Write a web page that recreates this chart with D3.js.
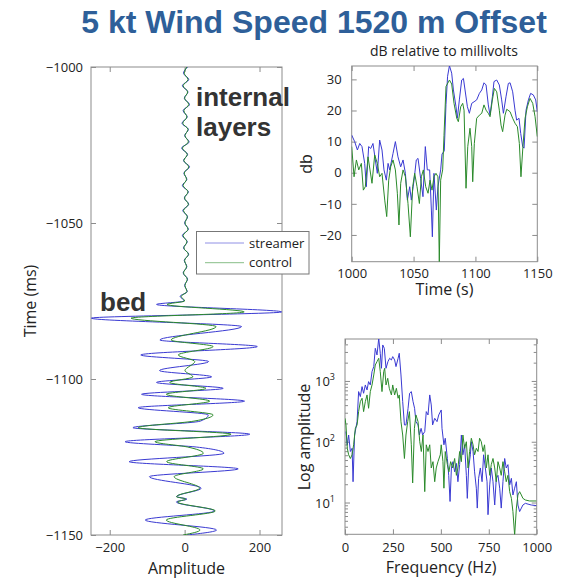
<!DOCTYPE html>
<html><head><meta charset="utf-8">
<script src="https://cdn.jsdelivr.net/npm/d3@7"></script>
<style>body{margin:0;background:#fff;} text{font-family:"Open Sans",sans-serif;}</style>
</head><body><svg id="c" width="585" height="580"></svg>
<script>
// ---------- DATA ----------
// Left panel: wiggle trace, time (ms) vs amplitude
const traceTime = [-1000,-1002,-1004,-1006,-1008,-1010,-1012,-1014,-1016,-1018,-1020,-1022,-1024,-1026,-1028,-1030,-1032,-1034,-1036,-1038,-1040,-1042,-1044,-1046,-1048,-1050,-1052,-1054,-1056,-1058,-1060,-1062,-1064,-1066,-1068,-1070,-1072,
  -1073.5,-1075,-1076.1,-1078.5,-1080.5,-1083.2,-1087.5,-1089.6,-1092.3,-1094.4,-1097.3,-1099.3,-1101.1,-1103,-1104.9,-1107.1,-1109.2,-1111.5,-1113.5,-1115.6,-1117.7,-1120.1,-1121.8,-1123.8,-1126.5,-1128.8,-1131.3,-1135,-1137.7,-1138.5,-1139.4,-1142.3,-1145.2,-1148.4,-1150];
const traceStreamer = [8,-3,11,-6,9,-1,13,-4,7,-7,10,0,12,-8,8,-3,13,-2,6,-6,10,-1,11,-5,8,0,10,-6,7,-3,11,-1,6,-4,8,0,7,
  -12,-1,-75,259,-249,152,-66,194,-117,64,-67,72,-75,103,-115,160,-124,63,42,-138,174,-159,31,105,-148,143,-94,44,-21,6,-22,80,-105,85,6];
const traceControl = [6,-1,9,-4,8,0,11,-2,6,-5,9,1,10,-6,7,-2,11,-1,5,-4,9,0,10,-3,7,1,9,-4,6,-2,10,0,5,-3,7,1,6,
  -9,0,-47,159,-143,84,-36,76,-17,27,1,22,-40,57,-49,67,-44,76,25,-124,124,-79,8,50,-48,50,-28,40,-22,3,-19,82,-49,41,-4];
const ampTicks = [-200, 0, 200];
const msTicks = [-1150, -1100, -1050, -1000];

// Top right: dB vs time (s)
const dbStreamerTime = [1000,1002.4,1004.6,1006.5,1008.3,1010.5,1011.8,1013.7,1015.4,1017.2,1019.1,1020.7,1022.6,1024.5,1026.1,1028,1029.4,1030.7,1033.4,1035.3,1037.4,1039.6,1041.5,1043.4,1045,1046.9,1048.2,1050.4,1052.2,1053.6,1055.7,1057.6,1059.5,1061.1,1063,1064.4,1065.2,1066.5,1068.4,1069.7,1071.9,1073,1074.8,1076.2,1077.5,1079,1080.8,1082.2,1084.3,1085.4,1087,1088.9,1090.3,1091.6,1093.5,1095.1,1097,1098.9,1101,1103.2,1105.1,1106.9,1108.6,1110.4,1111.8,1113.7,1115,1117.2,1119.3,1121.2,1122.6,1124.7,1126.6,1128,1130.1,1132,1133.3,1135.2,1136.6,1138.2,1139.3,1140.9,1142.8,1144.6,1146.8,1148.7,1150];
const dbStreamer = [12.1,10,7.3,9.4,8.4,3,-4.5,8.4,7.8,9.4,4.1,-0.2,10.5,7.3,0.9,-2.4,3,0.9,6.2,10,5.1,1.9,4.1,-0.2,-8.8,-4.5,-8.8,-2.4,4.1,4.6,-1.8,-7.7,8.4,0.9,0.9,-12,-20.6,-0.2,-12,-4.5,0.9,6,7,22,31,34.4,32,26.6,21.2,17.5,23.4,29.8,30.3,26.6,21.2,19.1,22.3,22.8,23.4,25.5,26.6,28.9,28.2,21.8,18.5,24.4,29.3,29.8,28.2,23.4,19.1,24.4,28.7,28.9,26,20.1,16.9,17.5,12.6,8.4,7.9,20.1,23.4,25.5,25,23.4,19.6];
const dbControlTime = [1000,1001.9,1003.8,1005.7,1007.8,1009.4,1011,1013.2,1014.8,1016.4,1018.6,1020.7,1022.6,1024.5,1026.7,1028.3,1029.9,1031.5,1033.4,1035.3,1036.9,1038.2,1039.6,1041.5,1043.4,1045.5,1047.4,1049.3,1050.9,1052.8,1054.7,1056.3,1057.9,1059.8,1061.7,1063.3,1064.9,1066.5,1068.1,1069.7,1070.8,1071.9,1073.5,1074.6,1076.2,1079,1080.8,1082.7,1084.9,1086.2,1088.1,1089.7,1090.8,1092.4,1093.8,1095.6,1097,1097.8,1099.1,1101,1103.2,1105.1,1106.9,1108.6,1110.4,1111.8,1113.7,1115.3,1117.2,1119.3,1120.7,1122,1123.9,1125.3,1128,1130.1,1132,1133.9,1135.5,1136.8,1138.2,1140.1,1142,1144.1,1146.3,1148.2,1150];
const dbControl = [8.4,-1.3,4.1,0.9,3,-5.6,-4.5,5.1,0.9,-3.4,5.7,3,-1.3,-0.2,-8.8,-14.1,-2.4,1.9,4.1,0.9,-6.6,-16.8,-3.4,0.9,-1.3,-9.9,-20.6,-4.5,-0.2,-4.5,-9.9,-1.3,0.9,-4.5,-6.6,-2.4,-5.6,-1.3,-0.2,-1.3,-28.6,-2.4,0.9,12,27.7,29.8,28.5,22.3,17.5,16.4,21.2,22.3,20.1,-5,8.4,14.3,8.4,-2.9,9.4,17.5,18.5,19.1,21.8,20.1,19.1,18,23.4,27.1,26,20.1,15.3,13.2,18.5,20.4,19.6,17.5,15.9,14.8,9.4,-1.3,7.3,17.5,21.2,23.9,22.3,18,11.6];
const timeSTicks = [1000, 1050, 1100, 1150];
const dbTicks = [-20, -10, 0, 10, 20, 30];

// Bottom right: log amplitude vs frequency (Hz)
const specStreamerFreq = [5,12,19,28,37,42,50,63,71,80,89,97,106,115,123,132,141,150,158,167,176,184,190,197,205,214,224,233,242,249,259,266,277,283,292,301,310,318,329,337,346,355,363,370,381,388,397,405,416,424,433,442,450,457,468,480,489,502,506,516,523,534,541,548,555,563,572,581,589,598,607,615,624,633,638,645,654,659,668,676,685,690,697,706,715,723,732,741,746,755,763,772,781,789,798,807,815,824,833,841,850,859,868,876,885,894,902,911,920,928,941,955,972,998];
const specStreamer = [147,89,129,69,78,22,129,214,668,553,807,627,859,711,975,859,1424,1721,3445,2677,5035,2851,1616,3908,3445,1616,2080,2360,2215,2514,2215,1721,2360,2851,1255,457,189,189,355,627,668,457,355,214,189,129,166,129,147,313,276,589,403,189,243,214,276,333,166,89,114,53,28,10.4,37,47,32,44,22,42,129,61,89,28,11.7,37,61,100,69,32,17.2,8.1,25,37,22,61,37,22,6.3,19.5,37,22,9.1,25,28,17.2,8.1,22,53,37,42,19.5,25,13.3,17.2,22,9.1,7.1,8.1,9.1,9.7,9.4,9.1,8.9];
const specControlFreq = [0,5,12,19,28,37,45,54,63,71,80,89,97,106,115,123,132,141,150,158,167,176,184,193,202,207,214,223,231,242,249,259,268,277,283,292,301,310,318,327,336,346,353,362,370,381,390,398,407,416,424,433,442,450,459,468,476,485,497,502,511,516,523,534,542,551,562,572,581,589,598,607,615,624,633,642,650,659,668,676,685,694,702,711,720,728,737,746,755,763,772,781,789,798,807,815,824,833,841,850,859,868,876,885,894,902,911,920,928,941,963,998];
const specControl = [243,189,78,61,53,61,89,166,189,313,457,519,313,457,589,355,668,859,1255,1833,2080,2360,1424,668,1424,1616,859,1106,757,589,859,589,757,519,589,214,129,53,129,214,313,89,21,166,276,214,100,69,129,15.1,89,69,89,37,47,22,37,47,61,89,47,17.2,69,42,32,47,37,53,28,37,69,47,129,78,100,37,69,114,89,61,78,69,114,100,69,89,37,61,28,42,53,37,22,47,37,28,47,32,22,28,15.1,11.7,7.1,2.9,8.1,13.3,15.1,13.3,11.7,11,10.6,10.6];
const freqTicks = [0, 250, 500, 750, 1000];
const logTicks = [10, 100, 1000];

const seriesNames = ["streamer", "control"];

// ---------- DRAW ----------
const svg = d3.select("#c");
const BLUE = "#3a3ad2", GREEN = "#2b8a2b", AX = "#8c8c8c", TXT = "#222";
const TICKFS = 13;

function styleAxis(g, fs) {
  g.select(".domain").remove();
  g.selectAll("line").attr("stroke", AX);
  g.selectAll("text").attr("fill", TXT).style("font-size", fs + "px");
}

function frame(x, y, o) {
  const [x0, x1] = x.range(), [y0, y1] = y.range();
  const g = svg.append("g");
  g.append("g").attr("transform", `translate(0,${y0})`)
    .call(d3.axisBottom(x).tickValues(o.xt).tickSize(-5).tickPadding(o.xpad).tickFormat(o.xf))
    .call(a => styleAxis(a, TICKFS));
  g.append("g").attr("transform", `translate(0,${y1})`)
    .call(d3.axisTop(x).tickValues(o.xt).tickSize(-5).tickFormat(""))
    .call(a => styleAxis(a, TICKFS));
  g.append("g").attr("transform", `translate(${x0},0)`)
    .call(d3.axisLeft(y).tickValues(o.yt).tickSize(-5).tickPadding(o.ypad).tickFormat(o.yf))
    .call(a => styleAxis(a, TICKFS));
  g.append("g").attr("transform", `translate(${x1},0)`)
    .call(d3.axisRight(y).tickValues(o.yt).tickSize(-5).tickFormat(""))
    .call(a => styleAxis(a, TICKFS));
  g.append("rect").attr("x", x0).attr("y", y1).attr("width", x1 - x0).attr("height", y0 - y1)
    .attr("fill", "none").attr("stroke", AX).attr("stroke-width", 1);
  return g;
}

function clip(id, x, y) {
  const [x0, x1] = x.range(), [y0, y1] = y.range();
  svg.append("clipPath").attr("id", id).append("rect")
    .attr("x", x0).attr("y", y1).attr("width", x1 - x0).attr("height", y0 - y1);
}

// Title
svg.append("text").attr("x", 314).attr("y", 33).attr("text-anchor", "middle")
  .style("font-family", "'Liberation Sans', Arial, sans-serif").style("font-weight", "bold")
  .style("font-size", "32px").attr("fill", "#2e5f99").text("5 kt Wind Speed 1520 m Offset");

// ---- Left panel ----
const xL = d3.scaleLinear().domain([-250, 260]).range([91, 282]);
const yL = d3.scaleLinear().domain([-1150, -1000]).range([535, 67]);
const fmt = d3.format("d");
frame(xL, yL, {xt: ampTicks, yt: msTicks, xf: fmt, yf: fmt, xpad: 8, ypad: 8});
clip("clipL", xL, yL);
const lineL = d3.line().x(d => xL(d[1])).y(d => yL(d[0])).curve(d3.curveMonotoneY);
[[traceStreamer, BLUE], [traceControl, GREEN]].forEach(([vals, col]) => {
  svg.append("path").datum(traceTime.map((t, i) => [t, vals[i]]))
    .attr("clip-path", "url(#clipL)").attr("fill", "none").attr("stroke", col)
    .attr("stroke-width", 1).attr("d", lineL);
});
svg.append("text").attr("x", 186.5).attr("y", 574).attr("text-anchor", "middle")
  .style("font-size", "16px").attr("fill", TXT).text("Amplitude");
svg.append("text").attr("transform", "translate(36,301) rotate(-90)").attr("text-anchor", "middle")
  .style("font-size", "16px").attr("fill", TXT).text("Time (ms)");

// annotations
const ann = (x, y, s) => svg.append("text").attr("x", x).attr("y", y)
  .style("font-family", "'Liberation Sans', Arial, sans-serif").style("font-weight", "bold")
  .style("font-size", "26px").attr("fill", "#333").text(s);
ann(196, 106, "internal");
ann(196, 136, "layers");
ann(100, 311, "bed");

// legend
const lg = svg.append("g");
lg.append("rect").attr("x", 196.5).attr("y", 231.5).attr("width", 112.5).attr("height", 42.5)
  .attr("fill", "#fff").attr("stroke", "#777").attr("stroke-width", 1);
seriesNames.forEach((n, i) => {
  const yy = 243 + i * 19.7;
  lg.append("line").attr("x1", 205).attr("x2", 244).attr("y1", yy).attr("y2", yy)
    .attr("stroke", i === 0 ? BLUE : GREEN).attr("stroke-width", 0.8).attr("opacity", 0.7);
  lg.append("text").attr("x", 249).attr("y", yy).attr("dy", "0.35em")
    .style("font-size", "13px").attr("fill", TXT).text(n);
});

// ---- Top right panel ----
const xT = d3.scaleLinear().domain([1000, 1150]).range([351.7, 537.3]);
const yT = d3.scaleLinear().domain([-28.6, 34.3]).range([261.7, 66]);
frame(xT, yT, {xt: timeSTicks, yt: dbTicks, xf: fmt, yf: fmt, xpad: 7, ypad: 10});
clip("clipT", xT, yT);
const lineT = d3.line().x(d => xT(d[0])).y(d => yT(d[1]));
[[dbStreamerTime, dbStreamer, BLUE], [dbControlTime, dbControl, GREEN]].forEach(([ts, vs, col]) => {
  svg.append("path").datum(ts.map((t, i) => [t, vs[i]]))
    .attr("clip-path", "url(#clipT)").attr("fill", "none").attr("stroke", col)
    .attr("stroke-width", 1).attr("d", lineT);
});
svg.append("text").attr("x", 444).attr("y", 56).attr("text-anchor", "middle")
  .style("font-size", "14px").attr("fill", TXT).text("dB relative to millivolts");
svg.append("text").attr("x", 444.5).attr("y", 295).attr("text-anchor", "middle")
  .style("font-size", "16px").attr("fill", TXT).text("Time (s)");
svg.append("text").attr("transform", "translate(312,164) rotate(-90)").attr("text-anchor", "middle")
  .style("font-size", "16px").attr("fill", TXT).text("db");

// ---- Bottom right panel ----
const xB = d3.scaleLinear().domain([0, 1000]).range([345, 536.7]);
const yB = d3.scaleLog().domain([3.0, 4900]).range([534.3, 339]);
const gB = frame(xB, yB, {xt: freqTicks, yt: logTicks, xf: fmt, yf: () => "", xpad: 8, ypad: 10});
const minor = yB.ticks().filter(v => !logTicks.includes(v));
gB.append("g").attr("transform", "translate(345,0)")
  .call(d3.axisLeft(yB).tickValues(minor).tickSize(-3).tickFormat("")).call(a => styleAxis(a, TICKFS));
gB.append("g").attr("transform", "translate(536.7,0)")
  .call(d3.axisRight(yB).tickValues(minor).tickSize(-3).tickFormat("")).call(a => styleAxis(a, TICKFS));
logTicks.forEach(v => {
  const t = svg.append("text").attr("x", 335).attr("y", yB(v) + 5).attr("text-anchor", "end")
    .style("font-size", "13px").attr("fill", TXT);
  t.append("tspan").text("10");
  t.append("tspan").attr("dy", -6).style("font-size", "9px").text(String(Math.round(Math.log10(v))));
});
clip("clipB", xB, yB);
const lineB = d3.line().x(d => xB(d[0])).y(d => yB(d[1]));
[[specStreamerFreq, specStreamer, BLUE], [specControlFreq, specControl, GREEN]].forEach(([fs, vs, col]) => {
  svg.append("path").datum(fs.map((f, i) => [f, vs[i]]))
    .attr("clip-path", "url(#clipB)").attr("fill", "none").attr("stroke", col)
    .attr("stroke-width", 1).attr("d", lineB);
});
svg.append("text").attr("x", 441).attr("y", 573).attr("text-anchor", "middle")
  .style("font-size", "16px").attr("fill", TXT).text("Frequency (Hz)");
svg.append("text").attr("transform", "translate(310,437) rotate(-90)").attr("text-anchor", "middle")
  .style("font-size", "16px").attr("fill", TXT).text("Log amplitude");
</script></body></html>
